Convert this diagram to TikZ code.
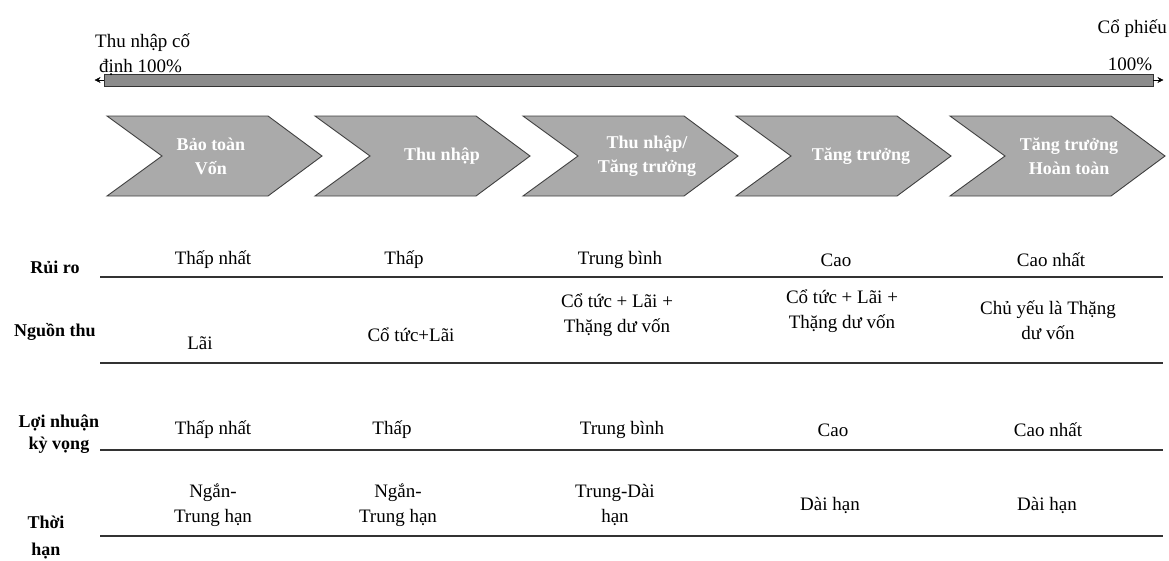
\documentclass[tikz,border=0pt]{standalone}
\usepackage{fontspec}
\setmainfont{Liberation Serif}
\usetikzlibrary{arrows.meta}
\definecolor{chevgray}{RGB}{170,170,170}
\definecolor{bargray}{RGB}{140,140,140}
\tikzset{
  chevron/.style={draw=black!75, fill=chevgray, line width=0.9pt},
  chevtext/.style={text=white, font=\bfseries\fontsize{18}{24}\selectfont, align=center},
  cell/.style={font=\fontsize{19}{25}\selectfont, align=center, inner sep=0pt},
  rowhead/.style={font=\bfseries\fontsize{18}{25}\selectfont, align=center, inner sep=0pt},
  rule/.style={line width=1.3pt, black!80},
  scalebar/.style={draw=black!80, fill=bargray, line width=0.9pt, inner sep=0pt}
}
\begin{document}
\begin{tikzpicture}[x=1pt, y=-1pt]
		\useasboundingbox (0,0) rectangle (1169,560);
		% Scale bar
		\node[scalebar, minimum width=1049pt, minimum height=12pt] (scale) at (628.5,80) {};
		\draw[-{Stealth[length=6pt,width=6pt]}, thin] (scale.west) -- ++(-9,0);
		\draw[-{Stealth[length=6pt,width=6pt]}, thin] (scale.east) -- ++(10,0);
		\node[cell, anchor=north west, align=left] (fixed) at (95,34) {Thu nhập cố\\\hspace{4pt}định 100\%};
		\node[cell, anchor=east] (stock) at (1167,29) {Cổ phiếu};
		\node[cell] (stockpct) at (1130,64) {100\%};
		% Stages
		\foreach \xl/\xc/\lbl [count=\i] in {107/211/{Bảo toàn\\Vốn}, 315/442/{Thu nhập}, 523/647/{Thu nhập/\\Tăng trưởng}, 736/861/{Tăng trưởng}, 950/1069/{Tăng trưởng\\Hoàn toàn}}{
		\draw[chevron] (\xl,116) -- ++(161,0) -- ++(54,40) -- ++(-54,40) -- ++(-161,0) -- ++(55,-40) -- cycle;
		\node[chevtext] (stage\i) at (\xc,156) {\lbl};
		}
		% Rules
		\foreach \y in {277,363,450,536}{
		\draw[rule] (100,\y) -- (1163,\y);
		}
		% Row heads
		\node[rowhead] (hrisk) at (55,267) {Rủi ro};
		\node[rowhead] (hsource) at (55,332) {Nguồn thu};
		\node[rowhead, font=\bfseries\fontsize{18}{22}\selectfont] (hreturn) at (59,434) {Lợi nhuận\\kỳ vọng};
		\node[rowhead, font=\bfseries\fontsize{18}{27}\selectfont] (hterm) at (46,538) {Thời\\hạn};
		% Risk
		\foreach \x/\t [count=\i] in {213/Thấp nhất, 404/Thấp, 620/Trung bình, 836/Cao, 1051/Cao nhất}{
		\node[cell] (risk\i) at (\x,260) {\t};
		}
		% Source
		\foreach \x/\y/\t [count=\i] in {200/343/Lãi, 411/335/{Cổ tức+Lãi}, 617/315/{Cổ tức + Lãi +\\Thặng dư vốn}, 842/311/{Cổ tức + Lãi +\\Thặng dư vốn}, 1048/320/{Chủ yếu là Thặng\\dư vốn}}{
		\node[cell] (source\i) at (\x,\y) {\t};
		}
		% Expected return
		\foreach \x/\t [count=\i] in {213/Thấp nhất, 392/Thấp, 622/Trung bình, 833/Cao, 1048/Cao nhất}{
		\node[cell] (return\i) at (\x,430) {\t};
		}
		% Term
		\foreach \x/\t [count=\i] in {213/{Ngắn-\\Trung hạn}, 398/{Ngắn-\\Trung hạn}, 615/{Trung-Dài\\hạn}, 830/{Dài hạn}, 1047/{Dài hạn}}{
		\node[cell] (term\i) at (\x,505) {\t};
		}
	\end{tikzpicture}
\end{document}
